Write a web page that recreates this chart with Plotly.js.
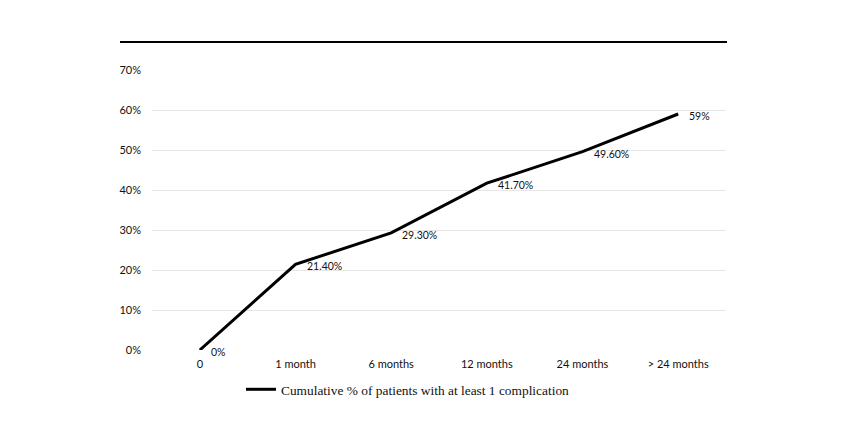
<!DOCTYPE html>
<html>
<head>
<meta charset="utf-8">
<script src="https://cdn.plot.ly/plotly-3.0.1.min.js"></script>
<style>html,body{margin:0;padding:0;background:#fff;}#chart{width:850px;height:425px;}</style>
</head>
<body>
<div id="chart"></div>
<script>
const categories = ["0", "1 month", "6 months", "12 months", "24 months", "> 24 months"];
const values = [0, 0.214, 0.293, 0.417, 0.496, 0.59];
const pointLabels = ["0%", "21.40%", "29.30%", "41.70%", "49.60%", "59%"];
const seriesName = "Cumulative % of patients with at least 1 complication";
const yTickVals = [0, 0.1, 0.2, 0.3, 0.4, 0.5, 0.6, 0.7];
const yTickText = ["0%", "10%", "20%", "30%", "40%", "50%", "60%", "70%"];

const tickFont = {family: "Lato, 'Open Sans', sans-serif", size: 11, color: "#111"};
const labelFont = {family: "Lato, 'Open Sans', sans-serif", size: 10.5, color: "#111"};

const trace = {
  x: categories,
  y: values,
  type: "scatter",
  mode: "lines",
  name: seriesName,
  line: {color: "#000", width: 3},
  hoverinfo: "skip"
};

const annotations = categories.map((c, i) => ({
  x: c, y: values[i], xref: "x", yref: "y",
  text: pointLabels[i], showarrow: false,
  xanchor: "left", yanchor: "middle",
  xshift: 9, yshift: -2,
  font: labelFont
}));

const layout = {
  width: 850, height: 425,
  margin: {l: 152, r: 124, t: 70, b: 75, autoexpand: false},
  paper_bgcolor: "#fff", plot_bgcolor: "#fff",
  showlegend: true,
  legend: {
    orientation: "h", x: 0.155, xanchor: "left", y: -0.086, yanchor: "top",
    font: {family: "'Liberation Serif', 'DejaVu Serif', serif", size: 13.4, color: "#111"},
    itemwidth: 30
  },
  xaxis: {
    type: "category", range: [-0.5, categories.length - 0.5],
    showgrid: false, zeroline: false, showline: false,
    ticks: "", ticklabelstandoff: 6, tickfont: tickFont, fixedrange: true
  },
  yaxis: {
    range: [0, 0.7], tickvals: yTickVals, ticktext: yTickText,
    showgrid: true, gridcolor: "#e6e6e6", gridwidth: 1,
    zeroline: false, showline: false, ticks: "", ticklabelstandoff: 10,
    tickfont: tickFont, fixedrange: true
  },
  annotations: annotations,
  shapes: [{
    type: "line", xref: "paper", yref: "paper",
    x0: -0.0557, x1: 1.0017, y0: 1.1, y1: 1.1,
    line: {color: "#000", width: 2}
  }]
};

Plotly.newPlot("chart", [trace], layout, {displayModeBar: false, staticPlot: true});
</script>
</body>
</html>
